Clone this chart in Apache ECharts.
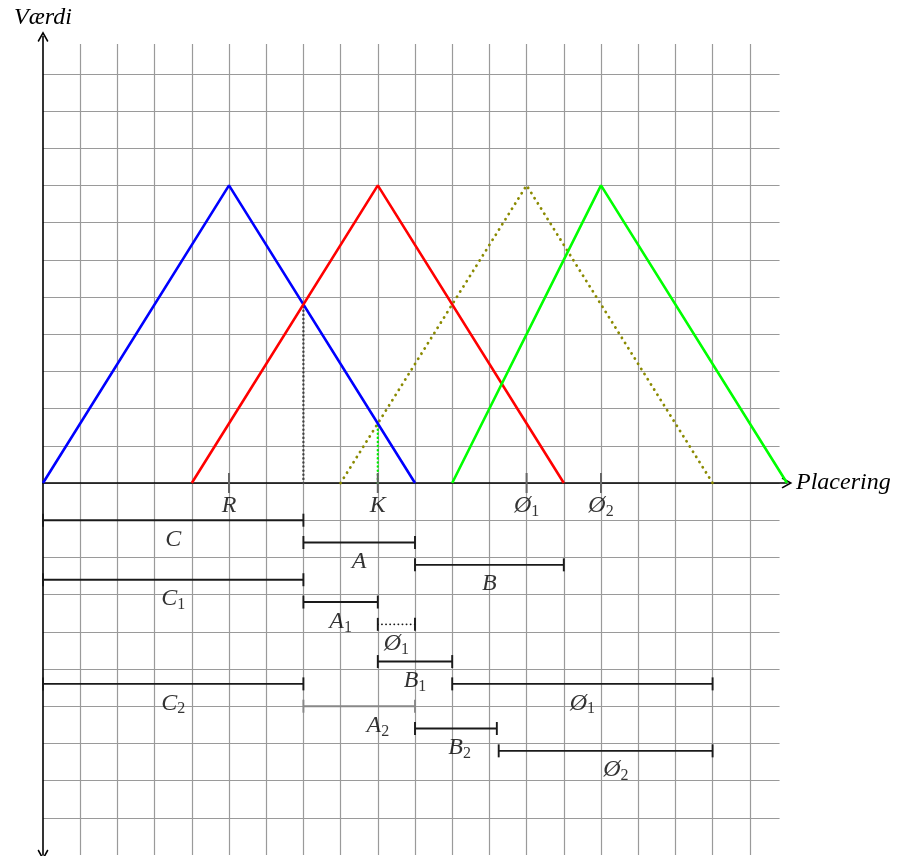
<!DOCTYPE html>
<html>
<head>
<meta charset="utf-8">
<title>Placering / Værdi</title>
<script src="https://cdn.jsdelivr.net/npm/echarts@6/dist/echarts.min.js"></script>
<style>
  html, body { margin: 0; padding: 0; background: #fff; }
  #main { width: 902px; height: 856px; }
</style>
</head>
<body>
<div id="main"></div>
<script>
// triangles (x, y)
var blueLine = [[0, 0], [5, 8], [10, 0]];
var redLine = [[4, 0], [9, 8], [14, 0]];
var oliveLine = [[8, 0], [13, 8], [18, 0]];
var greenLine = [[11, 0], [15, 8], [20, 0]];
// dotted drops at the crossings
var blackDrop = [[7, 0], [7, 4.8]];
var greenDrop = [[9, 0], [9, 1.6]];

// marks on the x axis
var tickValues = [5, 9, 13, 15];
var tickNames = ['R', 'K', 'Ø1', 'Ø2'];

// intervals under the axis
var spanNames = ['C', 'A', 'B', 'C1', 'A1', 'Ø1', 'B1', 'C2', 'Ø1', 'A2', 'B2', 'Ø2'];
var spanStart = [0, 7, 10, 0, 7, 9, 9, 0, 11, 7, 10, 12.25];
var spanEnd = [7, 10, 14, 7, 9, 10, 11, 7, 18, 10, 12.2, 18];
var spanLevel = [-1, -1.6, -2.2, -2.6, -3.2, -3.8, -4.8, -5.4, -5.4, -6, -6.6, -7.2];
var spanLabelX = [3.5, 8.5, 12, 3.5, 8, 9.5, 10, 3.5, 14.5, 9, 11.2, 15.4];

// how each interval is drawn
var spanLook = ['solid', 'solid', 'solid', 'solid', 'solid', 'dotted', 'solid', 'solid', 'solid', 'gray', 'solid', 'solid'];

var FONT = 'Liberation Serif';
var U = 37.2; // px per unit

function texName(s) {
    var m = s.match(/^(.*?)(\d)$/);
    if (m) return '{m|' + m[1] + '}{s|' + m[2] + '}';
    return '{m|' + s + '}';
}
var richText = {
    m: { fontFamily: FONT, fontStyle: 'italic', fontSize: 24, color: '#000', lineHeight: 28 },
    s: { fontFamily: FONT, fontSize: 16, color: '#000', lineHeight: 13, verticalAlign: 'bottom' }
};

var spanData = [];
var labelData = [];
for (var i = 0; i < spanNames.length; i++) {
    spanData.push([spanStart[i], spanEnd[i], spanLevel[i]]);
    labelData.push([spanLabelX[i], spanLevel[i] - 0.52, spanNames[i]]);
}
for (var j = 0; j < tickValues.length; j++) {
    labelData.push([tickValues[j], -0.62, tickNames[j]]);
}

var arrowPath = 'path://M0,0 L-5,9 L-3.8,9.8 L0,3 L3.8,9.8 L5,9 Z';

var myChart = echarts.init(document.getElementById('main'));
var option = {
    animation: false,
    backgroundColor: '#fff',
    grid: [
        { left: 43, top: 36.6, width: 20 * U, height: 22 * U },
        { left: 43, top: 36.6 + 0.2 * U, width: 19.8 * U, height: 21.8 * U }
    ],
    xAxis: [
        {
            type: 'value', gridIndex: 0, min: 0, max: 20,
            name: 'Placering', nameLocation: 'end', nameGap: 9,
            nameTextStyle: { fontFamily: FONT, fontStyle: 'italic', fontSize: 24, color: '#000', verticalAlign: 'middle' },
            axisLine: { show: true, onZero: true, symbol: ['none', arrowPath], symbolSize: [11, 12], lineStyle: { color: '#000', width: 1.6 } },
            axisTick: { show: false }, axisLabel: { show: false }, splitLine: { show: false }
        },
        {
            type: 'value', gridIndex: 1, min: 0, max: 19.8, interval: 1,
            axisLine: { show: false }, axisTick: { show: false }, axisLabel: { show: false },
            splitLine: { show: true, showMinLine: false, showMaxLine: false, lineStyle: { color: '#9a9a9a', width: 1.2 } }
        }
    ],
    yAxis: [
        {
            type: 'value', gridIndex: 0, min: -10, max: 12,
            name: 'Værdi', nameLocation: 'end', nameGap: 7,
            nameTextStyle: { fontFamily: FONT, fontStyle: 'italic', fontSize: 24, color: '#000', align: 'center' },
            axisLine: { show: true, onZero: true, symbol: [arrowPath, arrowPath], symbolSize: [11, 12], lineStyle: { color: '#000', width: 1.6 } },
            axisTick: { show: false }, axisLabel: { show: false }, splitLine: { show: false }
        },
        {
            type: 'value', gridIndex: 1, min: -10, max: 11.8, interval: 1,
            axisLine: { show: false }, axisTick: { show: false }, axisLabel: { show: false },
            splitLine: { show: true, showMinLine: false, showMaxLine: false, lineStyle: { color: '#9a9a9a', width: 1.2 } }
        }
    ],
    series: [
        { type: 'line', data: blueLine, showSymbol: false, z: 5, lineStyle: { color: '#0000ff', width: 2.6 } },
        { type: 'line', data: redLine, showSymbol: false, z: 5, lineStyle: { color: '#ff0000', width: 2.6 } },
        { type: 'line', data: oliveLine, showSymbol: false, z: 4, lineStyle: { color: '#8a8a00', width: 2.8, type: [0.1, 6], cap: 'round' } },
        { type: 'line', data: greenLine, showSymbol: false, z: 5, lineStyle: { color: '#00ff00', width: 2.6 } },
        { type: 'line', data: blackDrop, showSymbol: false, z: 4, lineStyle: { color: '#444', width: 2.4, type: [0.1, 4], cap: 'round' } },
        { type: 'line', data: greenDrop, showSymbol: false, z: 4, lineStyle: { color: '#00ee00', width: 2.4, type: [0.1, 4], cap: 'round' } },
        {
            type: 'custom', z: 6,
            data: tickValues.map(function (v) { return [v, 0]; }),
            renderItem: function (params, api) {
                var p = api.coord([api.value(0), api.value(1)]);
                return { type: 'line', shape: { x1: p[0], y1: p[1] - 10, x2: p[0], y2: p[1] + 10 }, style: { stroke: '#666', lineWidth: 2 } };
            }
        },
        {
            type: 'custom', z: 6,
            data: spanData,
            renderItem: function (params, api) {
                var a = api.coord([api.value(0), api.value(2)]);
                var b = api.coord([api.value(1), api.value(2)]);
                var look = spanLook[params.dataIndex];
                var col = look === 'gray' ? '#888' : '#1a1a1a';
                var dotted = look === 'dotted';
                return {
                    type: 'group',
                    children: [
                        { type: 'line', shape: { x1: a[0], y1: a[1], x2: b[0], y2: b[1] }, style: { stroke: col, lineWidth: dotted ? 1.8 : 1.9, lineDash: dotted ? [0.1, 4] : null, lineCap: dotted ? 'round' : 'butt' } },
                        { type: 'line', shape: { x1: a[0], y1: a[1] - 6.5, x2: a[0], y2: a[1] + 6.5 }, style: { stroke: col, lineWidth: 1.9 } },
                        { type: 'line', shape: { x1: b[0], y1: b[1] - 6.5, x2: b[0], y2: b[1] + 6.5 }, style: { stroke: col, lineWidth: 1.9 } }
                    ]
                };
            }
        },
        {
            type: 'scatter', z: 7,
            data: labelData,
            symbolSize: 1,
            itemStyle: { color: 'rgba(0,0,0,0)' },
            label: {
                show: true, position: 'inside', color: '#000', textBorderWidth: 0,
                formatter: function (p) { return texName(p.value[2]); },
                rich: richText
            }
        }
    ]
};
myChart.setOption(option);
</script>
</body>
</html>
